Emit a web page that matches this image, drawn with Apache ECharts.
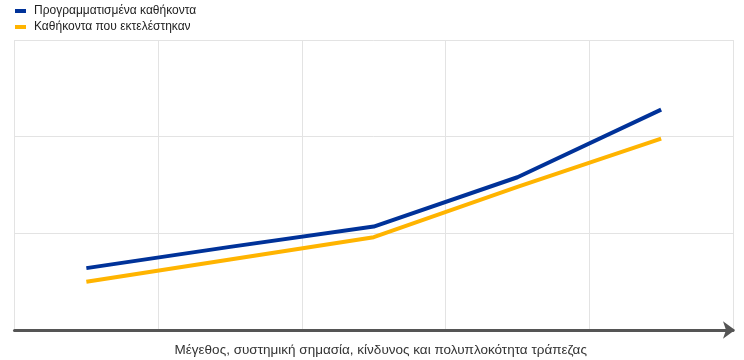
<!DOCTYPE html>
<html>
<head>
<meta charset="utf-8">
<script src="https://cdn.jsdelivr.net/npm/echarts@6/dist/echarts.min.js"></script>
<style>html,body{margin:0;padding:0;background:#fff}#c{width:744px;height:360px}</style>
</head>
<body>
<div id="c"></div>
<script>
const categories = ['1', '2', '3', '4', '5'];
const seriesNames = ['Προγραμματισμένα καθήκοντα', 'Καθήκοντα που εκτελέστηκαν'];
const planned = [0.64, 0.86, 1.07, 1.58, 2.28];
const executed = [0.50, 0.73, 0.96, 1.48, 1.98];
const axisTitle = 'Μέγεθος, συστημική σημασία, κίνδυνος και πολυπλοκότητα τράπεζας';

const chart = echarts.init(document.getElementById('c'), null, {renderer: 'canvas'});
chart.setOption({
  animation: false,
  backgroundColor: '#fff',
  textStyle: {fontFamily: 'Liberation Sans, Arial, sans-serif'},
  legend: {
    left: 10, top: 0, orient: 'vertical', itemGap: 4,
    itemWidth: 11, itemHeight: 4, icon: 'rect',
    textStyle: {fontSize: 12, color: '#222', padding: [0,0,0,3]},
    data: seriesNames
  },
  grid: {left: 14.5, right: 11, top: 40, bottom: 30, containLabel: false, outerBoundsMode: 'none'},
  xAxis: {
    type: 'category', data: categories, boundaryGap: true,
    axisLabel: {show: false}, axisTick: {show: false},
    axisLine: {show: true, lineStyle: {color: '#555', width: 3},
      symbol: ['none', 'arrow'], symbolSize: [13, 12], symbolOffset: [0, 2]},
    splitLine: {show: true, lineStyle: {color: '#e3e3e3', width: 1}},
    name: axisTitle, nameLocation: 'middle', nameGap: 13,
    nameTextStyle: {fontSize: 13.5, color: '#333', padding: [0, 0, 0, 14]}
  },
  yAxis: {
    type: 'value', min: 0, max: 3, interval: 1,
    axisLabel: {show: false}, axisTick: {show: false}, axisLine: {show: false},
    splitLine: {show: true, lineStyle: {color: '#e3e3e3', width: 1}}
  },
  series: [
    {name: seriesNames[0], type: 'line', data: planned, symbol: 'none',
     lineStyle: {color: '#003299', width: 4}, itemStyle: {color: '#003299'}, z: 3},
    {name: seriesNames[1], type: 'line', data: executed, symbol: 'none',
     lineStyle: {color: '#ffb400', width: 4}, itemStyle: {color: '#ffb400'}, z: 2}
  ]
});
</script>
</body>
</html>
